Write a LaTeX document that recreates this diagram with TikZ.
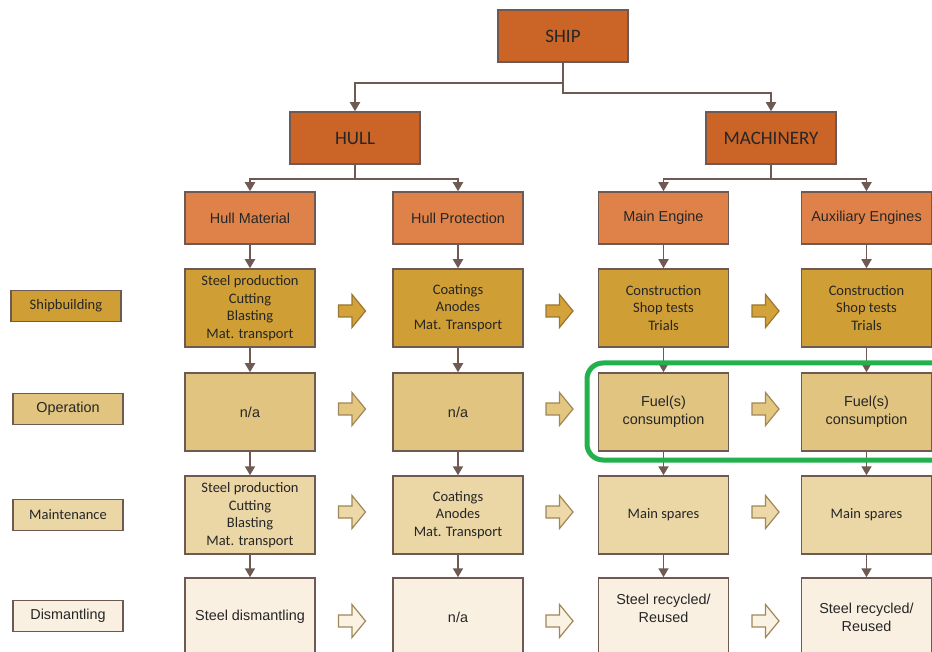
\documentclass[tikz,border=0pt]{standalone}
\usepackage{fontspec}
\setmainfont{Liberation Sans}
\newfontfamily\calfont{Carlito}
\usetikzlibrary{arrows.meta}
\definecolor{tierA}{HTML}{CB6427}
\definecolor{tierB}{HTML}{DF8249}
\definecolor{rowS}{HTML}{CF9E35}
\definecolor{rowO}{HTML}{E0C480}
\definecolor{rowM}{HTML}{EBD6A6}
\definecolor{rowD}{HTML}{F9F0E1}
\definecolor{arrS}{HTML}{D4A23A}
\definecolor{arrSb}{HTML}{9A7630}
\definecolor{arrO}{HTML}{E3C680}
\definecolor{arrM}{HTML}{EDD8A8}
\definecolor{arrD}{HTML}{FAF2E2}
\definecolor{arrb}{HTML}{A08758}
\definecolor{bord}{HTML}{6E5A52}
\definecolor{grn}{HTML}{22B14C}
\definecolor{txt}{HTML}{262626}
\begin{document}
\begin{tikzpicture}[x=1pt,y=-1pt,
  base/.style={draw=bord,line width=1.5pt,inner sep=0pt,align=center,text=txt},
  top/.style={base,fill=tierA,minimum width=130pt,minimum height=52pt,font=\calfont\fontsize{19}{22}\selectfont},
  sub/.style={base,fill=tierB,minimum width=130pt,minimum height=52pt,font=\fontsize{14.4}{18}\selectfont},
  cell/.style={base,minimum width=130pt,minimum height=78pt},
  cal/.style={font=\calfont\fontsize{14.5}{17.5}\selectfont},
  ari/.style={font=\fontsize{14.4}{18}\selectfont},
  lab/.style={base,minimum width=110pt,minimum height=31pt},
  conn/.style={draw=bord,line width=1.8pt,-{Triangle[width=10pt,length=9pt]}},
  pics/blk/.style args={#1/#2}{code={
    \draw[draw=#2,fill=#1,line width=1.2pt,line join=miter]
      (-13.5,-6) -- (0,-6) -- (0,-16.5) -- (13.5,0) -- (0,16.5) -- (0,6) -- (-13.5,6) -- cycle;}}
]
\useasboundingbox (0,0) rectangle (932,652);
\clip (0,0) rectangle (932,652);

% tier 1
\node[top] (ship) at (563,36) {SHIP};
\node[top] (hull) at (355,138) {HULL};
\node[top] (mach) at (771,138) {MACHINERY};

% tier 2
\node[sub] (hm) at (250,218) {Hull Material};
\node[sub] (hp) at (458,218) {Hull Protection};
\node[sub] (me) at (663.5,218) {Main Engine};
\node[sub] (ae) at (866.5,218) {Auxiliary Engines};

% row labels
\node[lab,cal,fill=rowS] (lS) at (66,306) {Shipbuilding};
\node[lab,ari,fill=rowO] (lO) at (68,409) {Operation};
\node[lab,cal,fill=rowM] (lM) at (68,515) {Maintenance};
\node[lab,ari,fill=rowD] (lD) at (68,616) {Dismantling};

% shipbuilding row
\node[cell,cal,fill=rowS] (s1) at (250,308) {Steel production\\Cutting\\Blasting\\Mat. transport};
\node[cell,cal,fill=rowS] (s2) at (458,308) {Coatings\\Anodes\\Mat. Transport};
\node[cell,cal,fill=rowS] (s3) at (663.5,308) {Construction\\Shop tests\\Trials};
\node[cell,cal,fill=rowS] (s4) at (866.5,308) {Construction\\Shop tests\\Trials};

% operation row
\node[cell,ari,fill=rowO] (o1) at (250,412) {n/a};
\node[cell,ari,fill=rowO] (o2) at (458,412) {n/a};
\node[cell,ari,fill=rowO] (o3) at (663.5,412) {Fuel(s)\\consumption};
\node[cell,ari,fill=rowO] (o4) at (866.5,412) {Fuel(s)\\consumption};

% maintenance row
\node[cell,cal,fill=rowM] (m1) at (250,515) {Steel production\\Cutting\\Blasting\\Mat. transport};
\node[cell,cal,fill=rowM] (m2) at (458,515) {Coatings\\Anodes\\Mat. Transport};
\node[cell,cal,fill=rowM] (m3) at (663.5,515) {Main spares};
\node[cell,cal,fill=rowM] (m4) at (866.5,515) {Main spares};

% dismantling row
\node[cell,ari,fill=rowD] (d1) at (250,617) {Steel dismantling};
\node[cell,ari,fill=rowD] (d2) at (458,617) {n/a};
\node[cell,ari,fill=rowD] (d3) at (663.5,617) {Steel recycled/\\Reused\\\mbox{}};
\node[cell,ari,fill=rowD] (d4) at (866.5,617) {Steel recycled/\\Reused};

% tree connectors
\draw[conn] (ship.south) -- ++(0,20) -| (hull.north);
\draw[conn] (ship.south) -- ++(0,30) -| (mach.north);
\draw[conn] (hull.south) -- ++(0,14) -| (hm.north);
\draw[conn] (hull.south) -- ++(0,14) -| (hp.north);
\draw[conn] (mach.south) -- ++(0,14) -| (me.north);
\draw[conn] (mach.south) -- ++(0,14) -| (ae.north);

% vertical connectors
\foreach \c in {1,2,3,4}{
  \draw[conn] (s\c.south) -- (o\c.north);
  \draw[conn] (o\c.south) -- (m\c.north);
  \draw[conn] (m\c.south) -- (d\c.north);
}
\draw[conn] (hm.south) -- (s1.north);
\draw[conn] (hp.south) -- (s2.north);
\draw[conn] (me.south) -- (s3.north);
\draw[conn] (ae.south) -- (s4.north);

% block arrows
\foreach \x in {352,559.5,765.5}{
  \pic at (\x,311) {blk={arrS/arrSb}};
  \pic at (\x,409) {blk={arrO/arrb}};
  \pic at (\x,512) {blk={arrM/arrb}};
  \pic at (\x,621) {blk={arrD/arrb}};
}

% highlight
\draw[grn,line width=5pt,rounded corners=16pt] (587,363) rectangle (960,460);
\end{tikzpicture}
\end{document}
